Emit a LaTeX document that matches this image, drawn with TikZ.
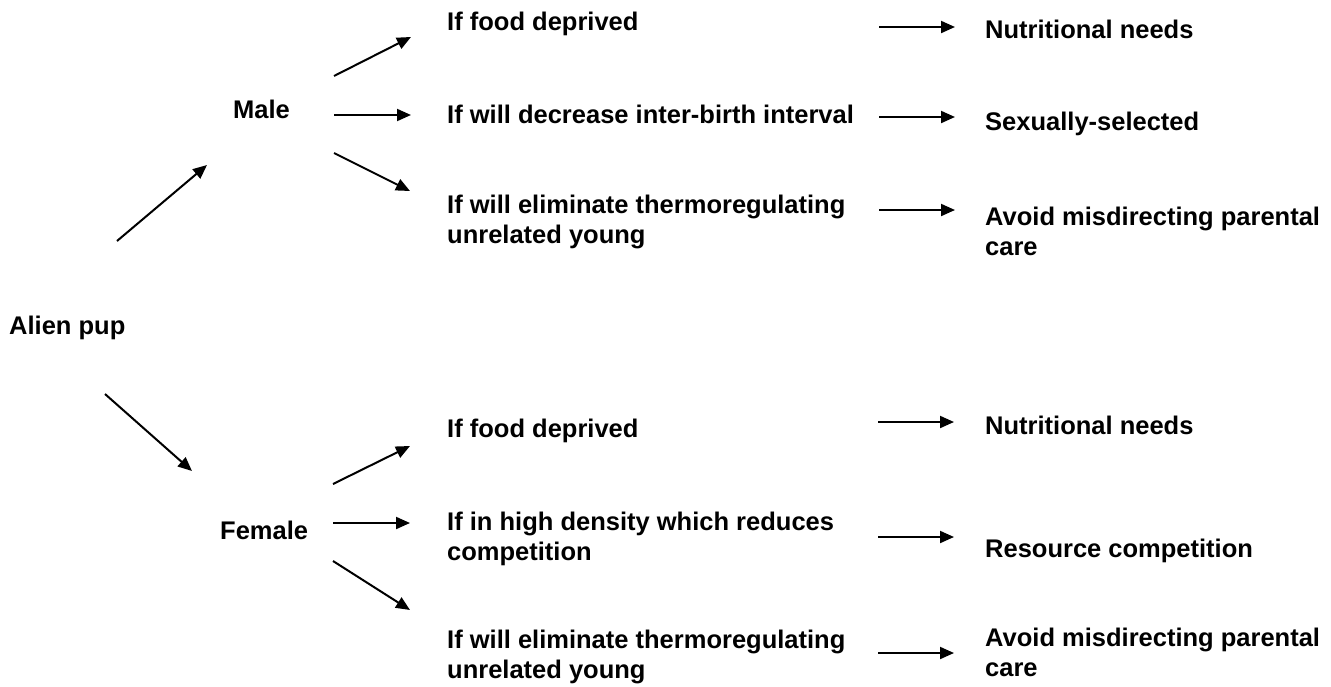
\documentclass[tikz,border=0pt]{standalone}
\usepackage{fontspec}
\setmainfont{Liberation Sans}
\usetikzlibrary{arrows.meta}
\begin{document}
\begin{tikzpicture}[x=1pt,y=-1pt,
  lbl/.style={anchor=base west,inner sep=0pt,align=left,font=\fontsize{25.5}{30}\selectfont\bfseries},
  arr/.style={line width=2pt,-{Triangle[length=14pt,width=12pt]}}]
\useasboundingbox (0,0) rectangle (1331,686);
% labels (for two-line labels the base is the last line)
\node[lbl] (alien) at (9,334) {Alien pup};
\node[lbl] (male) at (233,118) {Male};
\node[lbl] (female) at (220,539) {Female};
\node[lbl] (m1) at (447,30) {If food deprived};
\node[lbl] (m2) at (447,123) {If will decrease inter-birth interval};
\node[lbl] (m3) at (447,243) {If will eliminate thermoregulating\\unrelated young};
\node[lbl] (mr1) at (985,38) {Nutritional needs};
\node[lbl] (mr2) at (985,130) {Sexually-selected};
\node[lbl] (mr3) at (985,255) {Avoid misdirecting parental\\care};
\node[lbl] (f1) at (447,437) {If food deprived};
\node[lbl] (f2) at (447,560) {If in high density which reduces\\competition};
\node[lbl] (f3) at (447,678) {If will eliminate thermoregulating\\unrelated young};
\node[lbl] (fr1) at (985,434) {Nutritional needs};
\node[lbl] (fr2) at (985,557) {Resource competition};
\node[lbl] (fr3) at (985,676) {Avoid misdirecting parental\\care};
% arrow end points
\coordinate (a1s) at (117,241); \coordinate (a1e) at (207,165);
\coordinate (a2s) at (105,394); \coordinate (a2e) at (192,471);
\coordinate (mus) at (334,76);  \coordinate (mue) at (411,37);
\coordinate (mms) at (334,115); \coordinate (mme) at (411,115);
\coordinate (mds) at (334,153); \coordinate (mde) at (410,191);
\coordinate (fus) at (333,484); \coordinate (fue) at (410,446);
\coordinate (fms) at (333,523); \coordinate (fme) at (410,523);
\coordinate (fds) at (333,561); \coordinate (fde) at (410,610);
\coordinate (r1s) at (879,27);  \coordinate (r1e) at (955,27);
\coordinate (r2s) at (879,117); \coordinate (r2e) at (955,117);
\coordinate (r3s) at (879,210); \coordinate (r3e) at (955,210);
\coordinate (r4s) at (878,422); \coordinate (r4e) at (954,422);
\coordinate (r5s) at (878,537); \coordinate (r5e) at (954,537);
\coordinate (r6s) at (878,653); \coordinate (r6e) at (954,653);
% arrows
\draw[arr] (a1s) -- (a1e);
\draw[arr] (a2s) -- (a2e);
\draw[arr] (mus) -- (mue);
\draw[arr] (mms) -- (mme);
\draw[arr] (mds) -- (mde);
\draw[arr] (fus) -- (fue);
\draw[arr] (fms) -- (fme);
\draw[arr] (fds) -- (fde);
\draw[arr] (r1s) -- (r1e);
\draw[arr] (r2s) -- (r2e);
\draw[arr] (r3s) -- (r3e);
\draw[arr] (r4s) -- (r4e);
\draw[arr] (r5s) -- (r5e);
\draw[arr] (r6s) -- (r6e);
\end{tikzpicture}
\end{document}
